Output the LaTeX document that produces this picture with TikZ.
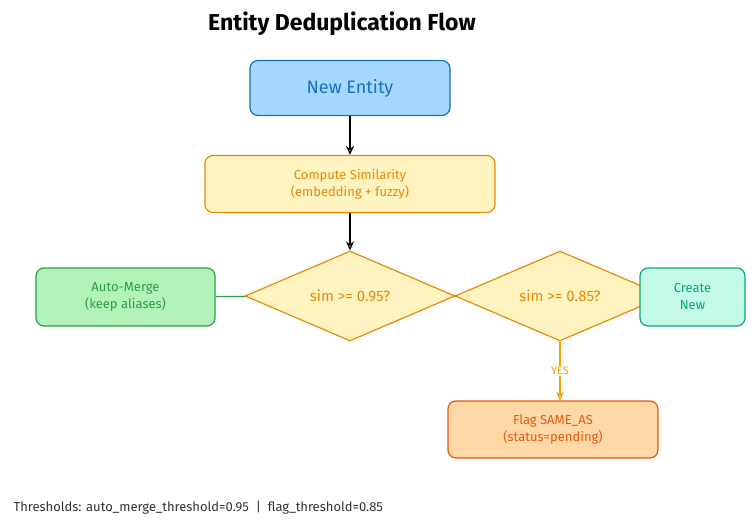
\documentclass[tikz,border=0pt]{standalone}
\usepackage{fontspec}
\setmainfont{Fira Sans}
\usetikzlibrary{shapes.geometric,arrows.meta}
\definecolor{bluefill}{HTML}{A5D8FF}\definecolor{bluedraw}{HTML}{1971C2}
\definecolor{yelfill}{HTML}{FFF3BF}\definecolor{orgdraw}{HTML}{E8890C}
\definecolor{grnfill}{HTML}{B2F2BB}\definecolor{grndraw}{HTML}{2F9E44}
\definecolor{tealfill}{HTML}{C3FAE8}\definecolor{tealdraw}{HTML}{0CA678}
\definecolor{pchfill}{HTML}{FFD8A8}\definecolor{pchdraw}{HTML}{E8590C}
\definecolor{yesline}{HTML}{F59F00}
\tikzset{
  box/.style={draw, rounded corners=8pt, line width=1.2pt, align=center, inner sep=0pt,
    font=\fontsize{13}{17}\selectfont},
  choice/.style={diamond, draw=orgdraw, fill=yelfill, text=orgdraw, line width=1.2pt,
    minimum width=210pt, minimum height=90pt, aspect=2.33, inner sep=0pt,
    font=\fontsize{15}{18}\selectfont},
}
\begin{document}
\begin{tikzpicture}[x=1pt,y=-1pt,>={Stealth[length=9pt,width=8pt,open]}]
   \useasboundingbox (0,0) rectangle (755,530);
   \node[font=\fontsize{23}{26}\selectfont\bfseries] (title) at (342,24) {Entity Deduplication Flow};
   \node[box, draw=bluedraw, fill=bluefill, text=bluedraw, minimum width=200pt, minimum height=55pt,
        font=\fontsize{18}{20}\selectfont] (new) at (350,88) {New Entity};
   \node[box, draw=orgdraw, fill=yelfill, text=orgdraw, minimum width=290pt, minimum height=57pt]
        (sim) at (350,184) {Compute Similarity\\(embedding + fuzzy)};
   \node[choice] (d1) at (350,296) {sim >= 0.95?};
   \node[choice] (d2) at (560,296) {sim >= 0.85?};
   \node[box, draw=grndraw, fill=grnfill, text=grndraw, minimum width=179pt, minimum height=58pt]
        (merge) at (125.5,297) {Auto-Merge\\(keep aliases)};
   \node[box, draw=tealdraw, fill=tealfill, text=tealdraw, minimum width=105pt, minimum height=58pt]
        (create) at (692.5,297) {Create\\New};
   \node[box, draw=pchdraw, fill=pchfill, text=pchdraw, minimum width=210pt, minimum height=57pt]
        (flag) at (553,429.5) {Flag SAME\_AS\\(status=pending)};
   \node[anchor=west, font=\fontsize{13}{15}\selectfont, text=black!80] (note) at (10,508)
        {Thresholds: auto\_merge\_threshold=0.95 \ | \ flag\_threshold=0.85};

   \draw[->, line width=1.2pt] (new) -- (sim);
   \draw[->, line width=1.2pt] (sim) -- (d1);
   \draw[draw=grndraw, line width=1.2pt] (merge) -- (d1);
   \draw[->, draw=yesline, line width=1.2pt] (d2.south) -- node[fill=white, font=\fontsize{11}{12}\selectfont, text=yesline, inner sep=1pt] {YES} (d2.south |- flag.north);
\end{tikzpicture}
\end{document}
